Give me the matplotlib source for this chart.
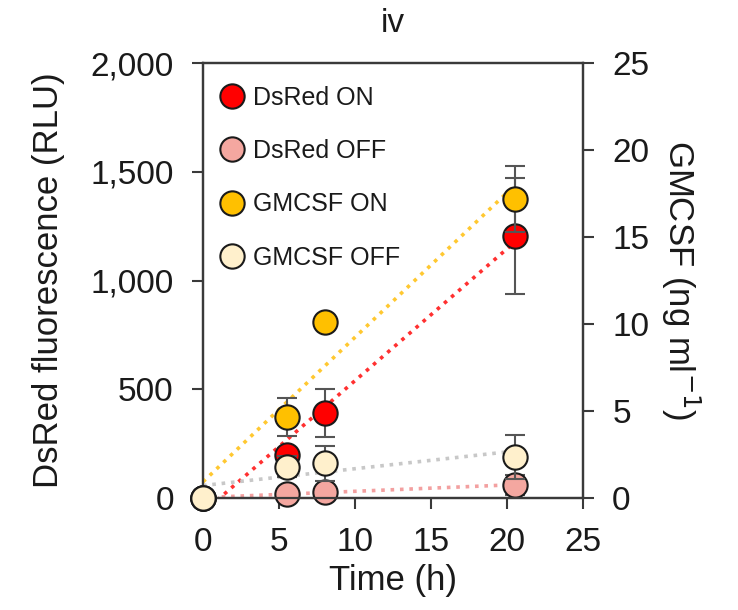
import numpy as np
import matplotlib
matplotlib.use("Agg")
import matplotlib.pyplot as plt
from matplotlib.lines import Line2D
from matplotlib.ticker import StrMethodFormatter

plt.rcParams['font.family'] = ['Liberation Sans', 'DejaVu Sans']

# data
time_h = [0, 5.5, 8, 20.5]
dsred_on = [0, 198, 391, 1205]
dsred_on_err = [0, 30, 110, 267]
dsred_off = [0, 18, 28, 60]
dsred_off_err = [0, 10, 15, 45]
gmcsf_on = [0, 4.66, 10.1, 17.2]
gmcsf_on_err = [0, 1.1, 0.3, 1.9]
gmcsf_off = [0, 1.8, 2.0, 2.35]
gmcsf_off_err = [0, 0.6, 1.0, 1.25]

c_red = '#FF0000'
c_pink = '#F4A7A0'
c_amber = '#FFC000'
c_cream = '#FFF0CC'
txt = '#1a1a1a'
spine_c = '#3a3a3a'

fig = plt.figure(figsize=(7.38, 6.10), dpi=100)
ax = fig.add_axes([0.275, 0.1836, 0.515, 0.7131])
ax2 = ax.twinx()

t = np.array(time_h)
xfit = np.linspace(0, t[-1], 50)


def fit_line(a, y, color):
    k, b = np.polyfit(t, y, 1)
    a.plot(xfit, k * xfit + b, ls=(0, (1, 1.6)), lw=2.6, color=color, zorder=1)


fit_line(ax, dsred_on, '#FF3030')
fit_line(ax, dsred_off, '#F3A0A0')
fit_line(ax2, gmcsf_on, '#FFC830')
fit_line(ax2, gmcsf_off, '#C8C8C8')

ms = 17.5
ekw = dict(fmt='none', ecolor='#555555', elinewidth=1.5, capsize=7, capthick=1.5, zorder=2)

ax.errorbar(time_h, dsred_on, yerr=dsred_on_err, **ekw)
ax.errorbar(time_h, dsred_off, yerr=dsred_off_err, **ekw)
ax.plot(time_h, dsred_on, 'o', ms=ms, mfc=c_red, mec='#1a1a1a', mew=1.5, zorder=3, clip_on=False)
ax.plot(time_h, dsred_off, 'o', ms=ms, mfc=c_pink, mec='#1a1a1a', mew=1.5, zorder=3, clip_on=False)

ax2.errorbar(time_h, gmcsf_on, yerr=gmcsf_on_err, **ekw)
ax2.errorbar(time_h, gmcsf_off, yerr=gmcsf_off_err, **ekw)
ax2.plot(time_h, gmcsf_on, 'o', ms=ms, mfc=c_amber, mec='#1a1a1a', mew=1.5, zorder=3, clip_on=False)
ax2.plot(time_h, gmcsf_off, 'o', ms=ms, mfc=c_cream, mec='#1a1a1a', mew=1.5, zorder=3, clip_on=False)

ax.set_xlim(0, 25)
ax.set_ylim(0, 2000)
ax2.set_ylim(0, 25)
ax.set_xticks([0, 5, 10, 15, 20, 25])
ax.set_yticks([0, 500, 1000, 1500, 2000])
ax2.set_yticks([0, 5, 10, 15, 20, 25])
ax.yaxis.set_major_formatter(StrMethodFormatter('{x:,.0f}'))

for a in (ax, ax2):
    for s in a.spines.values():
        s.set_color(spine_c)
        s.set_linewidth(1.6)
    a.tick_params(direction='out', length=8, width=1.5, color=spine_c,
                  labelsize=24, labelcolor=txt, pad=13)
ax.tick_params(top=False)

ax.set_xlabel('Time (h)', fontsize=25, color=txt, labelpad=4)
ax.set_ylabel('DsRed fluorescence (RLU)', fontsize=25, color=txt, labelpad=18)
ax2.set_ylabel('GMCSF (ng ml$^{-1}$)', fontsize=25, color=txt, rotation=270, labelpad=38)
ax.set_title('iv', fontsize=24, color=txt, pad=22)

handles = [
    Line2D([], [], ls='', marker='o', ms=ms, mfc=c_red, mec='#1a1a1a', mew=1.5),
    Line2D([], [], ls='', marker='o', ms=ms, mfc=c_pink, mec='#1a1a1a', mew=1.5),
    Line2D([], [], ls='', marker='o', ms=ms, mfc=c_amber, mec='#1a1a1a', mew=1.5),
    Line2D([], [], ls='', marker='o', ms=ms, mfc=c_cream, mec='#1a1a1a', mew=1.5),
]
labels = ['DsRed ON', 'DsRed OFF', 'GMCSF ON', 'GMCSF OFF']
leg = ax2.legend(handles, labels, loc='upper left', bbox_to_anchor=(0.0, 0.985),
                 frameon=False, fontsize=18, labelspacing=1.17, handlelength=1.0,
                 handletextpad=0.35, borderaxespad=0.25)
for tx in leg.get_texts():
    tx.set_color(txt)

fig.savefig('out.png', dpi=100)
